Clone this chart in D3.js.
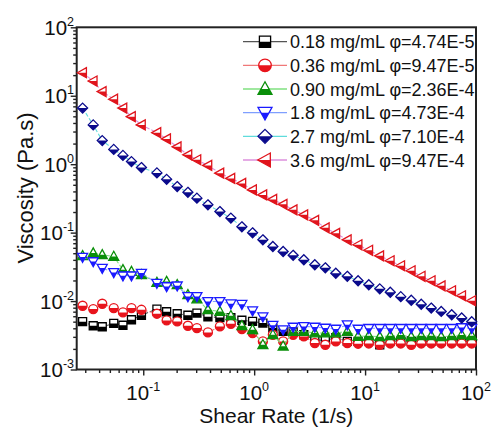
<!DOCTYPE html>
<html>
<head>
<meta charset="utf-8">
<script src="https://cdn.jsdelivr.net/npm/d3@7"></script>
<style>
  html, body { margin: 0; padding: 0; background: #fff; }
  svg { display: block; font-family: "Liberation Sans", Arial, sans-serif; }
</style>
</head>
<body>
<svg id="chart" width="492" height="428"></svg>
<script>
// ---- data ----
const shearRate = [0.0284, 0.0354, 0.0427, 0.0542, 0.0656, 0.0783, 0.0963, 0.1328, 0.1625, 0.2024,
  0.2527, 0.3047, 0.3828, 0.4909, 0.6167, 0.7747, 0.9674, 1.198, 1.474, 1.825,
  2.246, 2.804, 3.522, 4.38, 5.445, 6.914, 8.647, 10.8, 13.56, 16.87,
  20.97, 26.08, 32.08, 39.48, 48.59, 60.4, 74.3, 91.5];

const visc018 = [0.00499, 0.00436, 0.00421, 0.00471, 0.00443, 0.00533, 0.0062, 0.00764, 0.00698, 0.00653,
  0.0062, 0.00668, 0.0059, 0.00574, 0.0057, 0.00524, 0.00504, 0.00477, 0.00403, 0.0036,
  0.00356, 0.00322, 0.00272, 0.00266, 0.00291, 0.00257, 0.00257, 0.00263, 0.0023, 0.0026,
  0.0026, 0.00262, 0.0026, 0.00258, 0.0026, 0.00262, 0.0026, 0.0026];

const visc036 = [0.00854, 0.00764, 0.00913, 0.0079, 0.00682, 0.0079, 0.00746, 0.00653, 0.00521, 0.00504,
  0.00436, 0.00403, 0.00348, 0.00426, 0.00466, 0.0039, 0.00341, 0.00257, 0.00322, 0.00257,
  0.00322, 0.00304, 0.00244, 0.0023, 0.00257, 0.00244, 0.00238, 0.0024, 0.0023, 0.0024,
  0.0024, 0.0023, 0.0024, 0.0024, 0.0024, 0.0024, 0.0024, 0.0024];

const visc090 = [0.0458, 0.0502, 0.0474, 0.0448, 0.0286, 0.027, 0.0242, 0.0187, 0.0193, 0.0173,
  0.01236, 0.0107, 0.00746, 0.00705, 0.0061, 0.00436, 0.00381, 0.0023, 0.00322, 0.00219,
  0.0036, 0.0036, 0.00341, 0.00341, 0.00341, 0.0036, 0.00304, 0.0031, 0.003, 0.0031,
  0.0032, 0.003, 0.0031, 0.0031, 0.003, 0.0031, 0.0032, 0.0031];

const visc18 = [0.0439, 0.0378, 0.0303, 0.0262, 0.0234, 0.0234, 0.0256, 0.0183, 0.0163, 0.0167,
  0.01167, 0.01167, 0.00987, 0.00987, 0.00913, 0.00898, 0.00722, 0.0059, 0.00443, 0.00381,
  0.00417, 0.00426, 0.00417, 0.00403, 0.0039, 0.00451, 0.0039, 0.004, 0.004, 0.004,
  0.004, 0.004, 0.004, 0.004, 0.004, 0.004, 0.0041, 0.004];

const visc27 = [6.6, 3.75, 2.21, 1.645, 1.344, 1.09, 0.892, 0.746, 0.6, 0.471,
  0.388, 0.319, 0.255, 0.203, 0.163, 0.1216, 0.0993, 0.0785, 0.0627, 0.053,
  0.0466, 0.0401, 0.0339, 0.0306, 0.0255, 0.023, 0.0198, 0.0173, 0.01507, 0.01345,
  0.0116, 0.01027, 0.00898, 0.0079, 0.00705, 0.00631, 0.00565, 0.00499];

const visc36 = [21.7, 16.4, 11.5, 8.9, 6.6, 4.95, 3.75, 2.89, 2.34, 1.79,
  1.37, 1.16, 0.96, 0.74, 0.62, 0.524, 0.421, 0.356, 0.306, 0.259,
  0.215, 0.182, 0.151, 0.1175, 0.0977, 0.0785, 0.0664, 0.0552, 0.0458, 0.0388,
  0.0328, 0.0277, 0.023, 0.0198, 0.0167, 0.01414, 0.01195, 0.0101];

const seriesLabels = ["0.18 mg/mL \u03c6=4.74E-5", "0.36 mg/mL \u03c6=9.47E-5", "0.90 mg/mL \u03c6=2.36E-4",
  "1.8 mg/mL \u03c6=4.73E-4", "2.7 mg/mL \u03c6=7.10E-4", "3.6 mg/mL \u03c6=9.47E-4"];
const seriesValues = [visc018, visc036, visc090, visc18, visc27, visc36];
const seriesShapes = ["square", "circle", "up", "down", "diamond", "left"];
const markerColors = ["#000000", "#e8141c", "#0a8f0a", "#1a1aff", "#0a0a8c", "#e0141c"];
const lineColors = ["#555555", "#f07878", "#7fe07f", "#7f9fff", "#5fdcdc", "#dc8fdc"];

const xTickExps = [-1, 0, 1, 2];
const yTickExps = [-3, -2, -1, 0, 1, 2];
const xTitle = "Shear Rate (1/s)";
const yTitle = "Viscosity (Pa.s)";

// ---- layout ----
const L = 76.7, R = 476, T = 27.3, B = 369.5;
const svg = d3.select("#chart");

const x = d3.scaleLog().domain([Math.pow(10, -1.6), 100]).range([L, R]);
const y = d3.scaleLog().domain([1e-3, 1e2]).range([B, T]);

const shapePath = {
  square: "M-4,-4H4V4H-4Z",
  circle: "M-4.5,0A4.5,4.5 0 1,1 4.5,0A4.5,4.5 0 1,1 -4.5,0Z",
  up: "M0,-5.2L5,3.8L-5,3.8Z",
  down: "M0,5.2L5,-3.8L-5,-3.8Z",
  diamond: "M0,-5L5,0L0,5L-5,0Z",
  left: "M-5.2,0L3.8,-5L3.8,5Z"
};

const defs = svg.append("defs");
defs.append("clipPath").attr("id", "lowerHalf").attr("clipPathUnits", "userSpaceOnUse")
  .append("rect").attr("x", -20).attr("y", 0).attr("width", 40).attr("height", 20);
defs.append("clipPath").attr("id", "plotClip")
  .append("rect").attr("x", L - 6).attr("y", T - 6).attr("width", R - L + 12).attr("height", B - T + 12);

function drawMarker(g, shape, color, scale) {
  const inner = g.append("g").attr("transform", "scale(" + scale + ")");
  inner.append("path").attr("d", shapePath[shape]).attr("fill", "#fff");
  inner.append("path").attr("d", shapePath[shape]).attr("fill", color).attr("clip-path", "url(#lowerHalf)");
  inner.append("path").attr("d", shapePath[shape]).attr("fill", "none")
    .attr("stroke", color).attr("stroke-width", 1.3 / scale);
}

// ---- axes ----
const xMinor = [];
for (let e = -2; e < 2; e++) for (let m = 2; m <= 9; m++) {
  const v = m * Math.pow(10, e);
  if (v >= x.domain()[0] && v <= 100) xMinor.push(v);
}
const yMinor = [];
for (let e = -3; e < 2; e++) for (let m = 2; m <= 9; m++) yMinor.push(m * Math.pow(10, e));

const axisColor = "#222";
const gx = svg.append("g").attr("transform", "translate(0," + B + ")");
gx.call(d3.axisBottom(x).tickValues(xTickExps.map(e => Math.pow(10, e))).tickSize(6).tickFormat(""));
const gxm = svg.append("g").attr("transform", "translate(0," + B + ")");
gxm.call(d3.axisBottom(x).tickValues(xMinor).tickSize(3.5).tickFormat(""));
const gy = svg.append("g").attr("transform", "translate(" + L + ",0)");
gy.call(d3.axisLeft(y).tickValues(yTickExps.map(e => Math.pow(10, e))).tickSize(6).tickFormat(""));
const gym = svg.append("g").attr("transform", "translate(" + L + ",0)");
gym.call(d3.axisLeft(y).tickValues(yMinor).tickSize(3.5).tickFormat(""));
[gx, gxm, gy, gym].forEach(g => {
  g.select(".domain").remove();
  g.selectAll(".tick line").attr("stroke", axisColor).attr("stroke-width", 1.4);
});

svg.append("rect").attr("x", L).attr("y", T).attr("width", R - L).attr("height", B - T)
  .attr("fill", "none").attr("stroke", axisColor).attr("stroke-width", 2);

// tick labels
xTickExps.forEach(e => {
  const t = svg.append("text").attr("x", x(Math.pow(10, e))).attr("y", 399.5)
    .attr("text-anchor", "middle").attr("font-size", 20.5).attr("fill", "#111");
  t.append("tspan").text("10");
  t.append("tspan").attr("dy", -9).attr("font-size", 12.5).text(String(e));
});
yTickExps.forEach(e => {
  const t = svg.append("text").attr("x", 74).attr("y", y(Math.pow(10, e)) + 7.5)
    .attr("text-anchor", "end").attr("font-size", 20.5).attr("fill", "#111");
  t.append("tspan").text("10");
  t.append("tspan").attr("dy", -9).attr("font-size", 12.5).text(String(e));
});

// titles
svg.append("text").attr("x", (L + R) / 2).attr("y", 423).attr("text-anchor", "middle")
  .attr("font-size", 21).attr("fill", "#111").text(xTitle);
svg.append("text").attr("transform", "translate(33,188) rotate(-90)").attr("text-anchor", "middle")
  .attr("font-size", 22).attr("fill", "#111").text(yTitle);

// ---- series ----
const plot = svg.append("g").attr("clip-path", "url(#plotClip)");
const line = d3.line().x(d => x(d[0])).y(d => y(d[1]));
seriesValues.forEach((vals, i) => {
  const pts = shearRate.map((r, k) => [r, vals[k]]);
  plot.append("path").attr("d", line(pts)).attr("fill", "none")
    .attr("stroke", lineColors[i]).attr("stroke-width", 1.1).attr("stroke-dasharray", "4,2");
  plot.selectAll(null).data(pts).enter().append("g")
    .attr("transform", d => "translate(" + x(d[0]) + "," + y(d[1]) + ")")
    .each(function () { drawMarker(d3.select(this), seriesShapes[i], markerColors[i], 1); });
});

// ---- legend ----
const legend = svg.append("g");
seriesLabels.forEach((lab, i) => {
  const ry = 41.7 + i * 23.66;
  legend.append("line").attr("x1", 243).attr("x2", 287).attr("y1", ry).attr("y2", ry)
    .attr("stroke", lineColors[i]).attr("stroke-width", 1.3);
  const g = legend.append("g").attr("transform", "translate(265," + ry + ")");
  drawMarker(g, seriesShapes[i], markerColors[i], 1.4);
  legend.append("text").attr("x", 290).attr("y", ry + 6.5).attr("font-size", 18)
    .attr("fill", "#111").text(lab);
});
</script>
</body>
</html>
